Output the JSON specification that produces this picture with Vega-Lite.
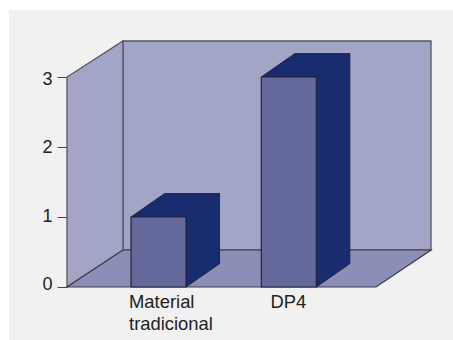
{
  "$schema": "https://vega.github.io/schema/vega-lite/v6.json",
  "width": 444,
  "height": 330,
  "padding": {"left": 9, "top": 10, "right": 0, "bottom": 0},
  "autosize": {"type": "none"},
  "background": "white",
  "view": {"fill": "#f1f1f1", "stroke": null},
  "datasets": {
    "bars": [
      {"category": "Material\ntradicional", "start": 1.164, "end": 2.164, "base": 0, "value": 1, "labelX": 1.128, "labelY": -0.3},
      {"category": "DP4", "start": 3.533, "end": 4.533, "base": 0, "value": 3, "labelX": 3.7, "labelY": -0.3}
    ],
    "room": [
      {"face": "back", "vertex": 1, "x": 1.018, "y": 0.529},
      {"face": "back", "vertex": 2, "x": 6.618, "y": 0.529},
      {"face": "back", "vertex": 3, "x": 6.618, "y": 3.514},
      {"face": "back", "vertex": 4, "x": 1.018, "y": 3.514},
      {"face": "left", "vertex": 1, "x": 0, "y": 0},
      {"face": "left", "vertex": 2, "x": 1.018, "y": 0.529},
      {"face": "left", "vertex": 3, "x": 1.018, "y": 3.514},
      {"face": "left", "vertex": 4, "x": 0, "y": 3},
      {"face": "floor", "vertex": 1, "x": 0, "y": 0},
      {"face": "floor", "vertex": 2, "x": 5.618, "y": 0},
      {"face": "floor", "vertex": 3, "x": 6.618, "y": 0.529},
      {"face": "floor", "vertex": 4, "x": 1.018, "y": 0.529}
    ],
    "barDepth": [
      {"face": "top A", "vertex": 1, "x": 1.164, "y": 1},
      {"face": "top A", "vertex": 2, "x": 2.164, "y": 1},
      {"face": "top A", "vertex": 3, "x": 2.773, "y": 1.334},
      {"face": "top A", "vertex": 4, "x": 1.773, "y": 1.334},
      {"face": "side A", "vertex": 1, "x": 2.164, "y": 0},
      {"face": "side A", "vertex": 2, "x": 2.773, "y": 0.334},
      {"face": "side A", "vertex": 3, "x": 2.773, "y": 1.334},
      {"face": "side A", "vertex": 4, "x": 2.164, "y": 1},
      {"face": "top B", "vertex": 1, "x": 3.533, "y": 3},
      {"face": "top B", "vertex": 2, "x": 4.533, "y": 3},
      {"face": "top B", "vertex": 3, "x": 5.142, "y": 3.334},
      {"face": "top B", "vertex": 4, "x": 4.142, "y": 3.334},
      {"face": "side B", "vertex": 1, "x": 4.533, "y": 0},
      {"face": "side B", "vertex": 2, "x": 5.142, "y": 0.334},
      {"face": "side B", "vertex": 3, "x": 5.142, "y": 3.334},
      {"face": "side B", "vertex": 4, "x": 4.533, "y": 3}
    ]
  },
  "layer": [
    {
      "data": {"name": "room"},
      "transform": [{"filter": "datum.face !== 'floor'"}],
      "mark": {"type": "line", "interpolate": "linear-closed", "fill": "#a3a5c6", "stroke": "#55555f", "strokeWidth": 1.3},
      "encoding": {
        "x": {"field": "x", "type": "quantitative", "scale": {"domain": [-1.0545, 7.018], "nice": false, "zero": false}, "axis": null},
        "y": {
          "field": "y",
          "type": "quantitative",
          "scale": {"domain": [-0.757, 3.957], "nice": false, "zero": false},
          "axis": {
            "title": null,
            "values": [0, 1, 2, 3],
            "format": "d",
            "offset": -58,
            "domain": false,
            "grid": false,
            "tickSize": 10,
            "tickColor": "#444444",
            "tickWidth": 1,
            "labelFont": "Liberation Sans",
            "labelFontSize": 18,
            "labelColor": "#222222",
            "labelPadding": 5,
            "labelOffset": {"expr": "(datum.value - 1.5) * 2"}
          }
        },
        "detail": {"field": "face"},
        "order": {"field": "vertex", "type": "quantitative"}
      }
    },
    {
      "data": {"name": "room"},
      "transform": [{"filter": "datum.face === 'floor'"}],
      "mark": {"type": "line", "interpolate": "linear-closed", "fill": "#8d8eb6", "stroke": "#3a3a46", "strokeWidth": 1.2},
      "encoding": {
        "x": {"field": "x", "type": "quantitative"},
        "y": {"field": "y", "type": "quantitative"},
        "order": {"field": "vertex", "type": "quantitative"}
      }
    },
    {
      "data": {"name": "barDepth"},
      "mark": {"type": "line", "interpolate": "linear-closed", "fill": "#172d70", "stroke": "#23243c", "strokeWidth": 1},
      "encoding": {
        "x": {"field": "x", "type": "quantitative"},
        "y": {"field": "y", "type": "quantitative"},
        "detail": {"field": "face"},
        "order": {"field": "vertex", "type": "quantitative"}
      }
    },
    {
      "data": {"name": "bars"},
      "mark": {"type": "rect", "fill": "#65689a", "stroke": "#23243c", "strokeWidth": 1.2},
      "encoding": {
        "x": {"field": "start", "type": "quantitative"},
        "x2": {"field": "end"},
        "y": {"field": "value", "type": "quantitative"},
        "y2": {"field": "base"}
      }
    },
    {
      "data": {"name": "bars"},
      "mark": {"type": "text", "align": "left", "baseline": "alphabetic", "font": "Liberation Sans", "fontSize": 18.4, "lineBreak": "\n", "lineHeight": 22, "color": "#222222"},
      "encoding": {
        "x": {"field": "labelX", "type": "quantitative"},
        "y": {"field": "labelY", "type": "quantitative"},
        "text": {"field": "category"}
      }
    }
  ]
}
